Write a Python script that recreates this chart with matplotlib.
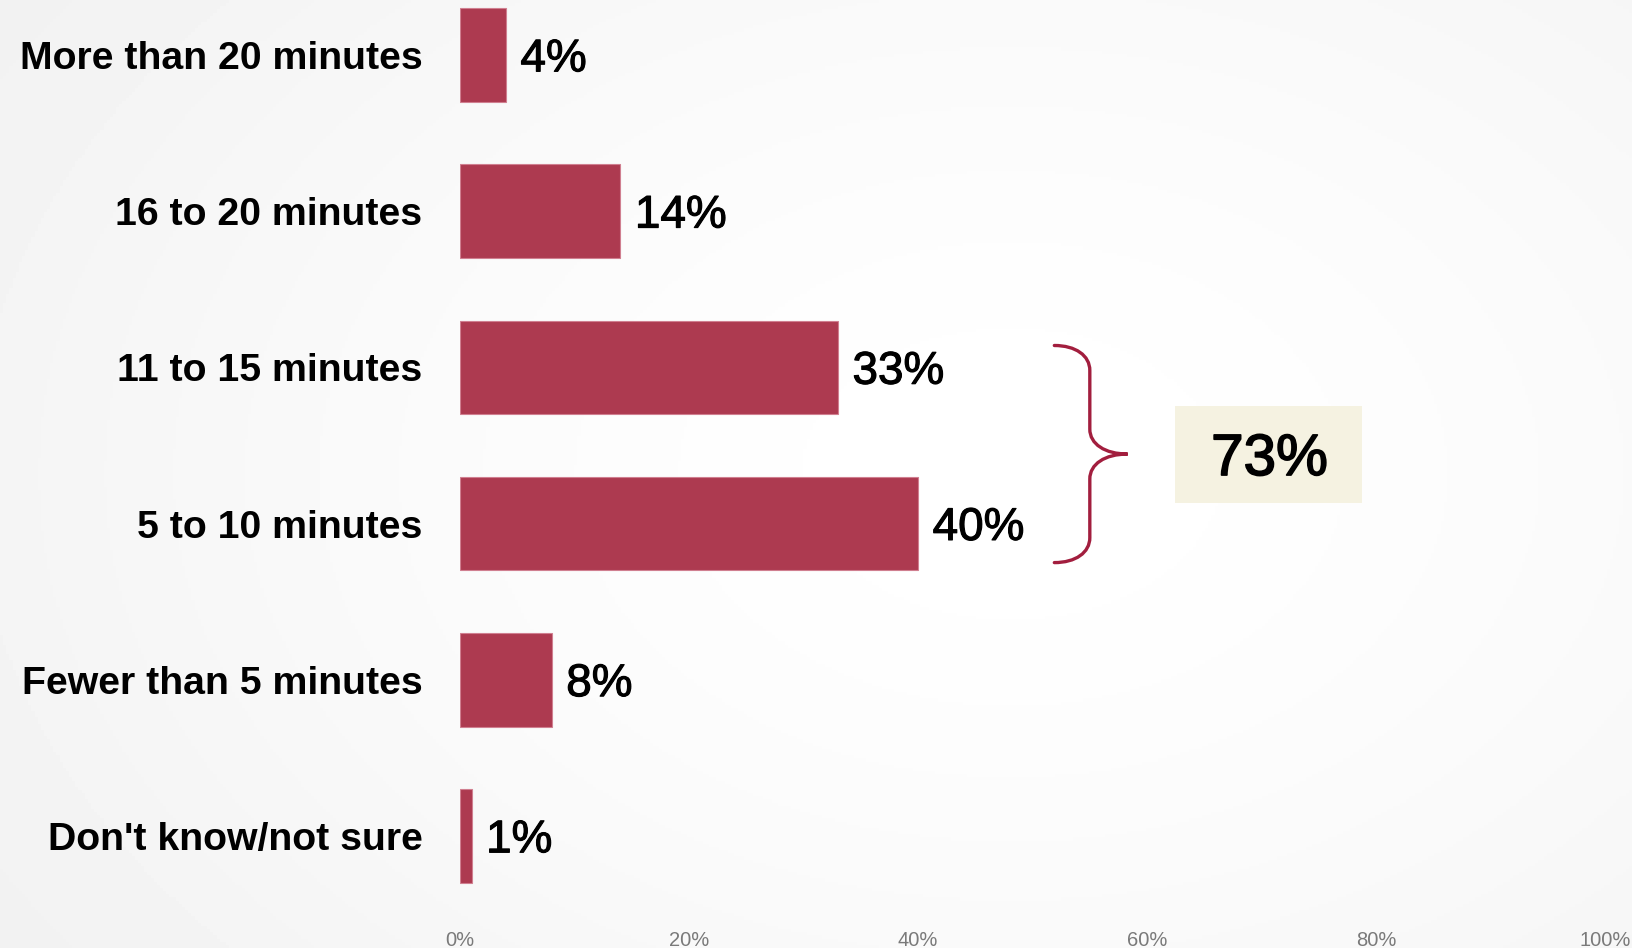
import numpy as np
import matplotlib
matplotlib.use("Agg")
import matplotlib.pyplot as plt
import matplotlib.patheffects as pe
from matplotlib.path import Path
from matplotlib.patches import PathPatch, Rectangle

# survey answers, listed bottom to top
categories = ["Don't know/not sure", "Fewer than 5 minutes", "5 to 10 minutes",
              "11 to 15 minutes", "16 to 20 minutes", "More than 20 minutes"]
values = [1, 8, 40, 33, 14, 4]
x_ticks = [0, 20, 40, 60, 80, 100]
x_tick_labels = ["0%", "20%", "40%", "60%", "80%", "100%"]
bracket_rows = ["11 to 15 minutes", "5 to 10 minutes"]
bracket_total = sum(values[categories.index(c)] for c in bracket_rows)

BAR_COLOR = "#AD3A50"
BRACE_COLOR = "#A21E3E"
BOX_COLOR = "#F5F2E1"
VALUE_SIZE = 33

fig = plt.figure(figsize=(16.32, 9.48), dpi=100)

# soft radial background, lighter toward the right middle
bg = fig.add_axes([0, 0, 1, 1], zorder=-1)
yy, xx = np.mgrid[0:1:300j, 0:1:520j]
r = np.sqrt(((xx - 0.62) / 0.75) ** 2 + ((yy - 0.5) / 0.9) ** 2)
shade = 1.0 - 0.055 * np.clip(r, 0, 1) ** 1.5
bg.imshow(shade, cmap="gray", vmin=0, vmax=1, aspect="auto", extent=[0, 1, 0, 1])
bg.axis("off")

ax = fig.add_axes([0.2819, 0.0243, 0.7016, 0.9757])
ax.patch.set_alpha(0)

y = np.arange(len(categories))
bars = ax.barh(y, values, height=0.6, color=BAR_COLOR, edgecolor="#D07F90", linewidth=0.8)

# a thin outline gives the regular face a medium weight
medium = [pe.withStroke(linewidth=0.8, foreground="black")]

for b, v in zip(bars, values):
    ax.annotate(f"{v}%", (b.get_width(), b.get_y() + b.get_height() / 2),
                xytext=(10.5, -0.358 * VALUE_SIZE), textcoords="offset points",
                va="baseline", ha="left", fontsize=VALUE_SIZE,
                family="Liberation Sans", color="black", path_effects=medium)

ax.set_xlim(0, 100)
ax.set_ylim(-0.57, len(categories) - 1 + 0.352)
ax.set_xticks(x_ticks)
ax.set_xticklabels(x_tick_labels, family="Liberation Sans", fontsize=14.5, color="#7A7A7A")
ax.set_yticks(y)
ax.set_yticklabels(categories, family="Liberation Sans", fontweight="bold", fontsize=28.3)
ax.tick_params(axis="x", length=0, pad=4)
ax.tick_params(axis="y", length=0, pad=27)
for s in ax.spines.values():
    s.set_visible(False)

# brace grouping the two largest answers
i_top = categories.index(bracket_rows[0])
i_bot = categories.index(bracket_rows[1])
ytop, ybot = i_top + 0.14, i_bot - 0.25
ymid = (ytop + ybot) / 2
x0, x1, x2 = 51.9, 55.0, 58.3
rr = 0.16
verts = [
    (x0, ytop), (x0 + (x1 - x0) * 0.6, ytop), (x1, ytop - rr * 0.4), (x1, ytop - rr),
    (x1, ymid + rr),
    (x1, ymid + rr * 0.4), (x1 + (x2 - x1) * 0.4, ymid), (x2, ymid),
    (x1 + (x2 - x1) * 0.4, ymid), (x1, ymid - rr * 0.4), (x1, ymid - rr),
    (x1, ybot + rr),
    (x1, ybot + rr * 0.4), (x0 + (x1 - x0) * 0.6, ybot), (x0, ybot),
]
codes = [Path.MOVETO, Path.CURVE4, Path.CURVE4, Path.CURVE4,
         Path.LINETO,
         Path.CURVE4, Path.CURVE4, Path.CURVE4,
         Path.CURVE4, Path.CURVE4, Path.CURVE4,
         Path.LINETO,
         Path.CURVE4, Path.CURVE4, Path.CURVE4]
ax.add_patch(PathPatch(Path(verts, codes), facecolor="none", edgecolor=BRACE_COLOR,
                       linewidth=2.4, capstyle="round", clip_on=False))

# highlighted total
ax.add_patch(Rectangle((62.4, 2.132), 16.4, 0.621, facecolor=BOX_COLOR, edgecolor="none"))
ax.text(70.7, ymid, f"{bracket_total}%", ha="center", va="center_baseline",
        fontsize=42, family="Liberation Sans", color="black",
        path_effects=[pe.withStroke(linewidth=1.2, foreground="black")])

fig.savefig("out.png", dpi=100)
